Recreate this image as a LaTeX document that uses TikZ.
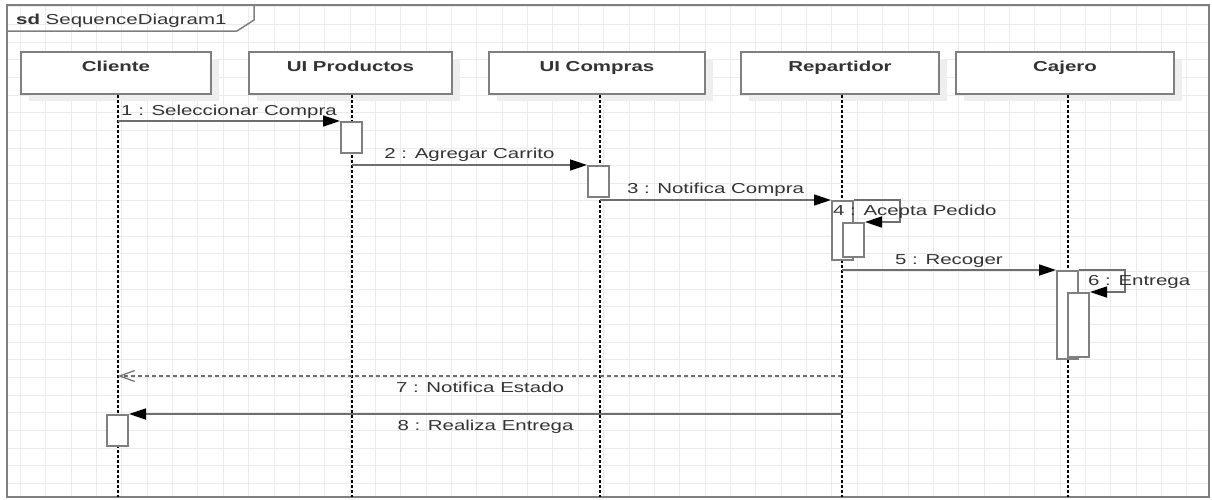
\documentclass[tikz,border=0pt]{standalone}
\usepackage{fontspec}
\setmainfont{Liberation Sans}[FakeStretch=1.42]
\usetikzlibrary{arrows.meta,shadows}
\definecolor{gridc}{HTML}{EBEBEB}
\definecolor{edgec}{HTML}{7F7F7F}
\definecolor{linec}{HTML}{6E6E6E}
\definecolor{txtc}{HTML}{333333}
\definecolor{shadc}{HTML}{EEEEEE}
\begin{document}
\begin{tikzpicture}[x=1pt,y=-1pt,
  every node/.style={font=\fontsize{14.4}{17}\selectfont, text=txtc},
  gridline/.style={draw=gridc, line width=1pt},
  framebox/.style={draw=edgec, line width=1.5pt},
  head/.style={draw=edgec, line width=2.2pt, fill=white, anchor=north,
    minimum width=#1, minimum height=42pt, inner sep=0pt,
    text height=19pt, text depth=23pt,
    font=\fontsize{14.4}{17}\selectfont\bfseries,
    drop shadow={shadow xshift=8pt, shadow yshift=-7pt, fill=shadc, opacity=1}},
  lifeline/.style={draw=black, line width=1.5pt, dash pattern=on 2.5pt off 2.5pt},
  act/.style={draw=edgec, line width=2pt, fill=white, anchor=north west,
    inner sep=0pt, minimum width=21pt, minimum height=#1},
  msg/.style={draw=linec, line width=1.7pt,
    -{Triangle[length=17pt,width=11pt,color=black]}},
  reply/.style={draw=linec, line width=1.3pt, dash pattern=on 4pt off 3pt,
    -{Straight Barb[length=15pt,width=11pt,color=linec,line width=1.2pt]}},
  msglabel/.style={anchor=base, inner sep=0pt}
]
\useasboundingbox (0,0) rectangle (1212,499);

% background grid, kept inside the frame
\begin{scope}
  \clip (7,5) rectangle (1209,497);
  \foreach \i in {0,...,47} \draw[gridline] ({20.4+25.36*\i},0) -- ++(0,499);
  \foreach \j in {0,...,28} \draw[gridline] (0,{6.8+17.65*\j}) -- ++(1212,0);
\end{scope}

% diagram frame and its name tab
\draw[framebox] (7,5) rectangle (1209,497);
\draw[framebox] (7,31) -- (237,31) -- (254,20) -- (254,5);
\node[anchor=base west, inner sep=0pt] (title) at (16,24) {\textbf{sd} SequenceDiagram1};

% lifeline heads
\node[head=190pt] (cliente)   at (116,51)  {Cliente};
\node[head=203pt] (uiprod)    at (350.5,51) {UI Productos};
\node[head=216pt] (uicompras) at (597,51)  {UI Compras};
\node[head=198pt] (repart)    at (840,51)  {Repartidor};
\node[head=218pt] (cajero)    at (1065,51) {Cajero};

% lifeline ends
\coordinate (e1) at (118,497);
\coordinate (e2) at (352,497);
\coordinate (e3) at (600,497);
\coordinate (e4) at (842,497);
\coordinate (e5) at (1068,497);
\draw[lifeline] (cliente.south -| e1) -- (e1);
\draw[lifeline] (uiprod.south -| e2) -- (e2);
\draw[lifeline] (uicompras.south -| e3) -- (e3);
\draw[lifeline] (repart.south -| e4) -- (e4);
\draw[lifeline] (cajero.south -| e5) -- (e5);

% activation bars
\node[act=31pt] (a1)  at (340,121)  {};
\node[act=31pt] (a2)  at (587,165)  {};
\node[act=59pt] (a3)  at (831,200)  {};
\node[act=34pt] (a3b) at (842,222)  {};
\node[act=88pt] (a4)  at (1056,270) {};
\node[act=64pt] (a4b) at (1067,292) {};
\node[act=31pt] (a5)  at (106,414)  {};

% message start points on the lifelines
\coordinate (s1) at (118,121);
\coordinate (s2) at (352,165);
\coordinate (s3) at (600,200);
\coordinate (s5) at (842,270);
\coordinate (s7) at (842,376);
\coordinate (t7) at (118,376);
\coordinate (s8) at (842,414);
\coordinate (k4) at (900,200);
\coordinate (k6) at (1125,270);

% messages
\draw[msg] (s1) -- node[msglabel, pos=0.5, yshift=6pt] {1 : Seleccionar Compra} (a1.north west);
\draw[msg] (s2) -- node[msglabel, pos=0.5, yshift=7pt] {2 : Agregar Carrito} (a2.north west);
\draw[msg] (s3) -- node[msglabel, pos=0.5, yshift=7pt] {3 : Notifica Compra} (a3.north west);
\draw[msg] (a3.north east) -- (k4) |- (a3b.north east);
\node[anchor=base west, inner sep=0pt] (l4) at (833,215) {4 : Acepta Pedido};
\draw[msg] (s5) -- node[msglabel, pos=0.5, yshift=6pt] {5 : Recoger} (a4.north west);
\draw[msg] (a4.north east) -- (k6) |- (a4b.north east);
\node[anchor=base west, inner sep=0pt] (l6) at (1088,285) {6 : Entrega};
\draw[reply] (s7) -- node[msglabel, pos=0.5, yshift=-16pt] {7 : Notifica Estado} (t7);
\draw[msg] (s8) -- node[msglabel, pos=0.5, yshift=-16pt] {8 : Realiza Entrega} (a5.north east);
\end{tikzpicture}
\end{document}
